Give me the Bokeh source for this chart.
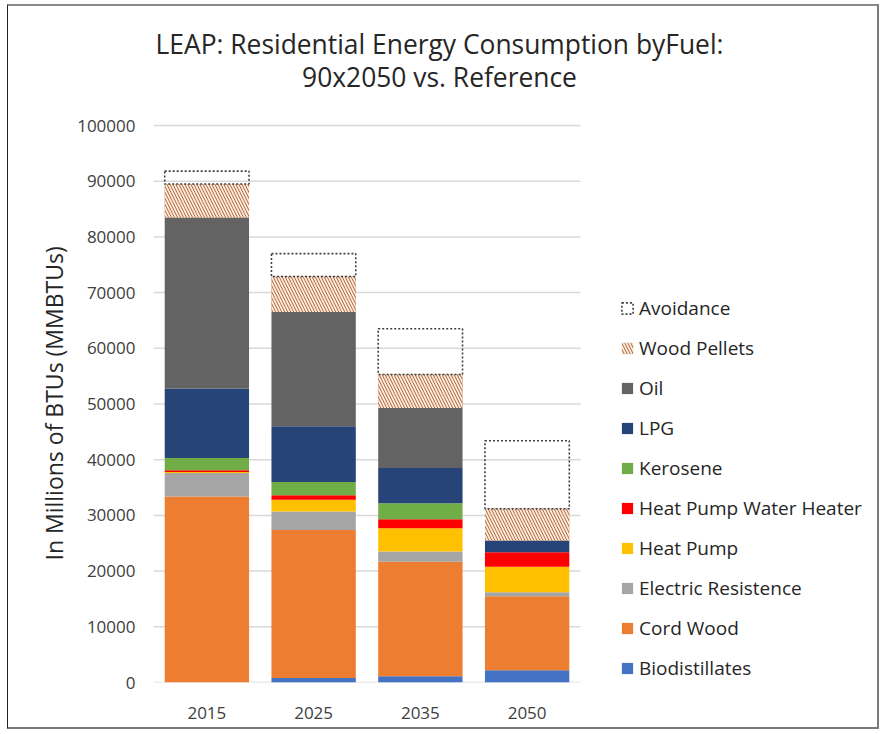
from bokeh.plotting import figure
from bokeh.models import (ColumnDataSource, Legend, LegendItem, Label, Range1d, Title,
                          FixedTicker, BasicTickFormatter)
from bokeh.embed import file_html
from bokeh.resources import INLINE
import numpy as np

years = ["2015", "2025", "2035", "2050"]
biodistillates = [0, 800, 1100, 2200]
cord_wood = [33400, 26600, 20600, 13300]
electric_resistence = [4200, 3300, 1800, 700]
heat_pump = [200, 2100, 4200, 4600]
heat_pump_water_heater = [300, 800, 1600, 2600]
kerosene = [2200, 2400, 2900, 0]
lpg = [12500, 10000, 6300, 2100]
oil = [30700, 20500, 10800, 0]
wood_pellets = [6000, 6400, 6000, 5700]
avoidance = [2300, 4100, 8200, 12200]
y_ticks = [0, 10000, 20000, 30000, 40000, 50000, 60000, 70000, 80000, 90000, 100000]
title_lines = ["LEAP: Residential Energy Consumption byFuel:", "90x2050 vs. Reference"]
y_label = "In Millions of BTUs (MMBTUs)"

series = [
    ("Biodistillates", biodistillates, "#4472C4"),
    ("Cord Wood", cord_wood, "#ED7D31"),
    ("Electric Resistence", electric_resistence, "#A5A5A5"),
    ("Heat Pump", heat_pump, "#FFC000"),
    ("Heat Pump Water Heater", heat_pump_water_heater, "#FF0000"),
    ("Kerosene", kerosene, "#70AD47"),
    ("LPG", lpg, "#264478"),
    ("Oil", oil, "#636363"),
    ("Wood Pellets", wood_pellets, "#B0602B"),
    ("Avoidance", avoidance, "#FFFFFF"),
]
legend_order = ["Avoidance", "Wood Pellets", "Oil", "LPG", "Kerosene", "Heat Pump Water Heater",
                "Heat Pump", "Electric Resistence", "Cord Wood", "Biodistillates"]

# ---- layout (pixels) ----
W, H = 872, 725          # canvas size
BL, BB = 145, 49         # left / bottom border (axes)
FRAME_W = W - BL
FRAME_H = H - BB
CAT_PX = 106.75          # pixel width of one category
Y_TOP_PX = 557.0         # pixel height of 0..100000
x_end = FRAME_W / CAT_PX
y_end = y_ticks[-1] * FRAME_H / Y_TOP_PX

FONT = "Open Sans"
p = figure(width=W, height=H, output_backend="svg", toolbar_location=None,
           x_range=Range1d(0, x_end), y_range=Range1d(0, y_end),
           min_border_left=BL, min_border_right=0, min_border_top=0, min_border_bottom=BB)
p.styles = {"margin-left": "7px", "margin-top": "4px",
            "border-left": "1px solid #222222", "border-top": "2px solid #8a8a8a",
            "border-right": "2px solid #7a7a7a", "border-bottom": "2px solid #7a7a7a"}
p.outline_line_color = None
p.background_fill_color = "white"
p.border_fill_color = "white"
p.xgrid.grid_line_color = None
p.ygrid.grid_line_color = None

xpos = np.arange(len(years)) + 0.5

# gridlines across the category area only
p.segment(x0=[0] * len(y_ticks), x1=[len(years)] * len(y_ticks), y0=y_ticks, y1=y_ticks,
          line_color="#D9D9D9", line_width=1.5)

bottom = np.zeros(len(years))
renderers = {}
for name, vals, col in series:
    top = bottom + np.array(vals, dtype=float)
    src = ColumnDataSource(dict(x=xpos, top=top, bottom=bottom.copy()))
    if name == "Wood Pellets":
        r = p.vbar(x="x", top="top", bottom="bottom", width=0.79, source=src,
                   fill_color=col, line_color=None,
                   hatch_pattern="left_diagonal_line", hatch_color="#FBEDE3",
                   hatch_scale=6, hatch_weight=1.8)
    elif name == "Avoidance":
        r = p.vbar(x="x", top="top", bottom="bottom", width=0.79, source=src,
                   fill_color="white", fill_alpha=0.0, line_color="#404040",
                   line_dash="2 2", line_width=1.6)
    else:
        r = p.vbar(x="x", top="top", bottom="bottom", width=0.79, source=src,
                   fill_color=col, line_color=None)
    renderers[name] = r
    bottom = top

# axes
p.yaxis.ticker = FixedTicker(ticks=y_ticks)
p.yaxis.formatter = BasicTickFormatter(use_scientific=False)
p.yaxis.axis_line_color = None
p.yaxis.major_tick_line_color = None
p.yaxis.minor_tick_line_color = None
p.yaxis.major_label_text_font = FONT
p.yaxis.major_label_text_font_size = "17px"
p.yaxis.major_label_text_color = "#404040"
p.yaxis.major_label_standoff = 12

# y-axis title, placed along the 0..100000 span
p.add_layout(Title(text=y_label, align="left", offset=122, standoff=10,
                   text_font=FONT, text_font_size="23px", text_font_style="normal",
                   text_color="#262626"), "left")

p.xaxis.ticker = FixedTicker(ticks=list(xpos))
p.xaxis.major_label_overrides = {float(x): y for x, y in zip(xpos, years)}
p.xaxis.axis_line_color = None
p.xaxis.major_tick_line_color = None
p.xaxis.minor_tick_line_color = None
p.xaxis.major_label_text_font = FONT
p.xaxis.major_label_text_font_size = "17px"
p.xaxis.major_label_text_color = "#404040"
p.xaxis.major_label_standoff = 18


def px_to_x(px):  # page pixel -> data x
    return (px - 8 - BL) / CAT_PX


def py_to_y(py):  # page pixel -> data y
    return (682 - py) / Y_TOP_PX * y_ticks[-1]


for txt, yy in zip(title_lines, [43, 76]):
    p.add_layout(Label(x=px_to_x(439), y=py_to_y(yy), text=txt,
                       text_align="center", text_baseline="middle",
                       text_font=FONT, text_font_size="26.4px", text_color="#262626"))

items = [LegendItem(label=n, renderers=[renderers[n]]) for n in legend_order]
legend = Legend(items=items, location=(620 - 8 - BL, 1), padding=0, margin=0,
                border_line_color=None, background_fill_alpha=0,
                glyph_width=14, glyph_height=14, label_height=20, spacing=14,
                label_standoff=5, label_text_font=FONT, label_text_font_size="19px",
                label_text_color="#262626")
p.add_layout(legend)

open("out.html", "w").write(file_html(p, INLINE))
